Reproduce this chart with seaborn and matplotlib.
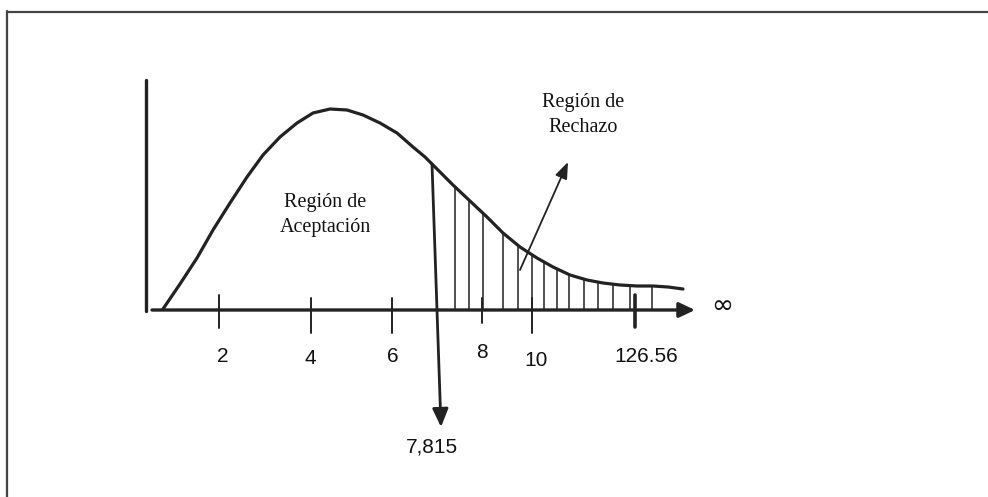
import numpy as np
import pandas as pd
import seaborn as sns
import matplotlib
matplotlib.use("Agg")
import matplotlib.pyplot as plt

# schematic diagram, positions in picture units (x right, y down)
curve_x = [163, 180, 197, 213, 230, 247, 263, 280, 297, 313, 330, 347, 363, 380, 397,
           413, 425, 433, 445, 453, 470, 487, 503, 520, 537, 553, 570, 587, 603, 620,
           637, 653, 668, 683]
curve_y = [309, 284, 258, 230, 203, 177, 155, 137, 123, 113, 109, 110, 115, 123, 133,
           147, 157, 165, 177, 185, 201, 217, 233, 247, 258, 267, 275, 280, 283, 285,
           286, 286, 287, 289]

hatch_x = [455, 469, 483, 503, 518, 532, 544, 557, 569, 584, 598, 613, 630, 652]
hatch_top = [187, 200, 213, 232, 245, 255, 262, 268, 274, 279, 282, 284, 286, 286]

tick_x = [219, 311, 392, 482, 532, 635]
tick_top = [295, 298, 298, 298, 298, 295]
tick_bottom = [328, 333, 333, 323, 333, 327]
tick_labels = ["2", "4", "6", "8", "10", "126.56"]
label_x = [223, 310, 393, 482, 536, 646]
label_y = [356, 358, 356, 352, 360, 357]

critical_label = "7,815"
accept_text = "Región de\nAceptación"
reject_text = "Región de\nRechazo"

sns.set_style("white")
ink = "#222222"

fig = plt.figure(figsize=(9.88, 4.97), dpi=100)
ax = fig.add_axes([0, 0, 1, 1])
ax.set_xlim(0, 988)
ax.set_ylim(497, 0)
ax.axis("off")

# outer frame (top and left only visible)
ax.plot([7, 988], [11.5, 11.5], color="#444444", lw=1.6)
ax.plot([7, 7], [11, 497], color="#444444", lw=1.6)

# density curve
df = pd.DataFrame({"x": curve_x, "y": curve_y})
sns.lineplot(data=df, x="x", y="y", sort=False, estimator=None, color=ink, lw=2.3,
             solid_joinstyle="round", solid_capstyle="round", ax=ax)

# vertical axis
ax.plot([146, 146], [80, 311], color=ink, lw=2.4)

# horizontal axis with arrow
ax.annotate("", xy=(695, 310), xytext=(152, 310),
            arrowprops=dict(arrowstyle="-|>,head_length=0.95,head_width=0.45",
                            color=ink, lw=2.4, shrinkA=0, shrinkB=0, mutation_scale=10))

# rejection region hatching
ax.vlines(hatch_x, hatch_top, 310, color=ink, lw=1.1)

# ticks
for i, (tx, t0, t1) in enumerate(zip(tick_x, tick_top, tick_bottom)):
    ax.plot([tx, tx], [t0, t1], color=ink, lw=2.6 if i == len(tick_x) - 1 else 1.4)

for lab, lx, ly in zip(tick_labels, label_x, label_y):
    ax.text(lx, ly, lab, ha="center", va="center", fontsize=15,
            family="Liberation Sans", color="#111111")

# critical value arrow
ax.annotate("", xy=(441, 427), xytext=(432, 164),
            arrowprops=dict(arrowstyle="-|>,head_length=1.1,head_width=0.48",
                            color=ink, lw=2.0, shrinkA=0, shrinkB=0, mutation_scale=10))
ax.text(432, 447, critical_label, ha="center", va="center", fontsize=15,
        family="Liberation Sans", color="#111111")

# rejection label arrow
ax.annotate("", xy=(568, 162), xytext=(520, 270),
            arrowprops=dict(arrowstyle="-|>,head_length=1.0,head_width=0.38",
                            color=ink, lw=1.3, shrinkA=0, shrinkB=0, mutation_scale=10))

ax.text(325, 215, accept_text, ha="center", va="center", fontsize=14.5,
        family="Liberation Serif", color="#111111", linespacing=1.4)
ax.text(583, 115, reject_text, ha="center", va="center", fontsize=14.5,
        family="Liberation Serif", color="#111111", linespacing=1.4)

ax.text(722, 306, "∞", ha="center", va="center", fontsize=19,
        family="DejaVu Sans", color="#111111")

fig.savefig("out.png", dpi=100)
